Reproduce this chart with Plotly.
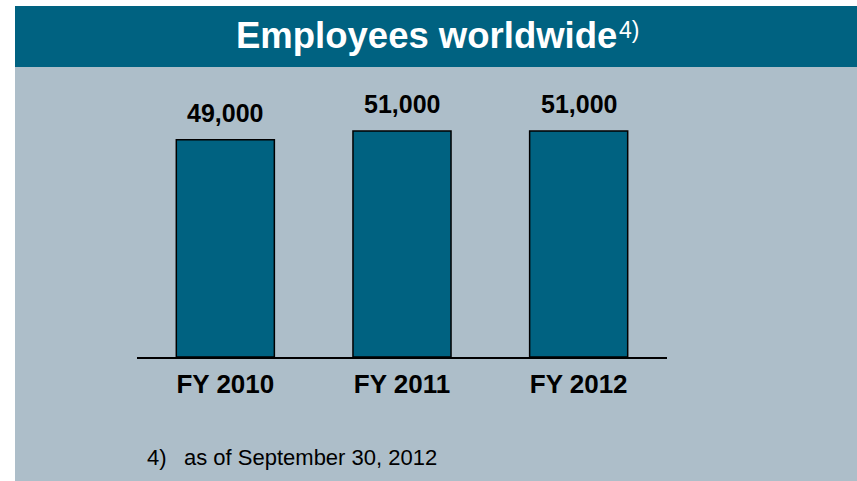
import plotly.graph_objects as go

categories = ["FY 2010", "FY 2011", "FY 2012"]
employees = [49000, 51000, 51000]
value_labels = ["49,000", "51,000", "51,000"]

TEAL = "#006281"
GRAY = "#adbec9"
FONT = "Liberation Sans, Arial, sans-serif"

W, H = 857, 481
L, R, T, B = 137, 190, 91, 124
pw, ph = W - L - R, H - T - B

def px_x(px):
    return (px - L) / pw

def px_y(py):
    return (H - B - py) / ph

fig = go.Figure()
fig.add_trace(go.Bar(
    x=categories, y=employees, width=0.555,
    marker=dict(color=TEAL, line=dict(color="black", width=1.5)),
    hoverinfo="skip",
))

annotations = []
for c, v, lab in zip(categories, employees, value_labels):
    annotations.append(dict(x=c, y=v, xref="x", yref="y", text="<b>%s</b>" % lab,
                            showarrow=False, yanchor="bottom", yshift=11,
                            font=dict(family=FONT, size=25, color="black")))

annotations.append(dict(x=px_x(234), y=px_y(36), xref="paper", yref="paper",
                        xanchor="left", yanchor="middle", showarrow=False,
                        text="<b>Employees worldwide</b>",
                        font=dict(family=FONT, size=36.5, color="white")))
annotations.append(dict(x=px_x(617), y=px_y(30), xref="paper", yref="paper",
                        xanchor="left", yanchor="middle", showarrow=False,
                        text="4)",
                        font=dict(family=FONT, size=23, color="white")))
annotations.append(dict(x=px_x(145), y=px_y(457), xref="paper", yref="paper",
                        xanchor="left", yanchor="middle", showarrow=False,
                        text="4)", font=dict(family=FONT, size=22, color="black")))
annotations.append(dict(x=px_x(182), y=px_y(457), xref="paper", yref="paper",
                        xanchor="left", yanchor="middle", showarrow=False,
                        text="as of September 30, 2012",
                        font=dict(family=FONT, size=22, color="black")))

shapes = [
    dict(type="rect", xref="paper", yref="paper", x0=px_x(15), x1=px_x(W + 5),
         y0=px_y(H + 5), y1=px_y(67), fillcolor=GRAY, line=dict(width=0), layer="below"),
    dict(type="rect", xref="paper", yref="paper", x0=px_x(15), x1=px_x(W + 5),
         y0=px_y(67), y1=px_y(6), fillcolor=TEAL, line=dict(width=0), layer="below"),
]

fig.update_layout(
    width=W, height=H, autosize=False,
    margin=dict(l=L, r=R, t=T, b=B, pad=0),
    paper_bgcolor="white", plot_bgcolor="rgba(0,0,0,0)",
    showlegend=False, bargap=0.445,
    annotations=annotations, shapes=shapes,
    xaxis=dict(showline=True, linecolor="black", linewidth=1.5, showgrid=False,
               zeroline=False, ticks="", ticklabelstandoff=3,
               tickfont=dict(family=FONT, size=26, color="black"),
               tickvals=categories,
               ticktext=["<b>%s</b>" % c for c in categories],
               fixedrange=True),
    yaxis=dict(range=[0, 60000], visible=False, showgrid=False, zeroline=False,
               fixedrange=True),
)

fig.write_html("out.html", config={"displayModeBar": False},
               post_script="document.body.style.margin='0';document.body.style.overflow='hidden';")
